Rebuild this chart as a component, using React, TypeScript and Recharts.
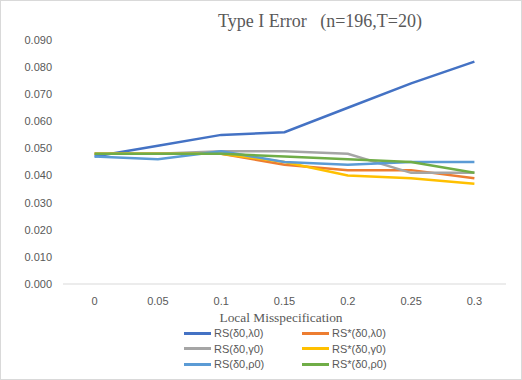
import { LineChart, Line, XAxis, YAxis } from "recharts";

const categories = ["0", "0.05", "0.1", "0.15", "0.2", "0.25", "0.3"];
const rsLambda = [0.047, 0.051, 0.055, 0.056, 0.065, 0.074, 0.082];
const rsStarLambda = [0.048, 0.048, 0.048, 0.044, 0.042, 0.042, 0.039];
const rsGamma = [0.048, 0.048, 0.049, 0.049, 0.048, 0.041, 0.041];
const rsStarGamma = [0.048, 0.048, 0.048, 0.045, 0.040, 0.039, 0.037];
const rsRho = [0.047, 0.046, 0.049, 0.045, 0.044, 0.045, 0.045];
const rsStarRho = [0.048, 0.048, 0.048, 0.047, 0.046, 0.045, 0.041];
const yTicks = [0, 0.01, 0.02, 0.03, 0.04, 0.05, 0.06, 0.07, 0.08, 0.09];

const series = [
  { key: "rsLambda", name: "RS(δ0,λ0)", color: "#4472C4", values: rsLambda },
  { key: "rsStarLambda", name: "RS*(δ0,λ0)", color: "#ED7D31", values: rsStarLambda },
  { key: "rsGamma", name: "RS(δ0,γ0)", color: "#A5A5A5", values: rsGamma },
  { key: "rsStarGamma", name: "RS*(δ0,γ0)", color: "#FFC000", values: rsStarGamma },
  { key: "rsRho", name: "RS(δ0,ρ0)", color: "#5B9BD5", values: rsRho },
  { key: "rsStarRho", name: "RS*(δ0,ρ0)", color: "#70AD47", values: rsStarRho },
];

const data = categories.map((c, i) => {
  const row: Record<string, string | number> = { x: c };
  series.forEach((s) => (row[s.key] = s.values[i]));
  return row;
});

const sans = "'Liberation Sans', Arial, sans-serif";
const serif = "'Liberation Serif', 'Times New Roman', serif";

// legend drawn beside the chart so it doesn't eat into the plot area
function LegendBox() {
  return (
    <div
      style={{
        position: "absolute",
        top: 325.5,
        left: 184,
        display: "grid",
        gridTemplateColumns: "118px 130px",
        fontFamily: sans,
        fontSize: 11,
        color: "#595959",
      }}
    >
      {series.map((s) => (
        <div key={s.key} style={{ display: "flex", alignItems: "center", height: 15.5 }}>
          <span style={{ display: "inline-block", width: 27, height: 3, background: s.color, marginRight: 3 }} />
          <span>{s.name}</span>
        </div>
      ))}
    </div>
  );
}

export default function App() {
  return (
    <div style={{ position: "fixed", top: 0, left: 0, width: 522, height: 380, background: "#fff" }}>
      <LineChart width={522} height={380} data={data} margin={{ top: 40, right: 16, bottom: 76, left: 0 }}>
        <text x={320} y={27} textAnchor="middle" fontFamily={serif} fontSize={18} fill="#595959" style={{ whiteSpace: "pre" }}>
          {"Type I Error   (n=196,T=20)"}
        </text>
        <text x={281} y={322} textAnchor="middle" fontFamily={serif} fontSize={13.4} fill="#595959">
          Local Misspecification
        </text>
        <XAxis
          dataKey="x"
          height={20}
          padding={{ left: 31.6, right: 31.6 }}
          axisLine={{ stroke: "#D9D9D9" }}
          tickLine={false}
          tickMargin={7}
          tick={{ fill: "#595959", fontSize: 11, fontFamily: sans }}
        />
        <YAxis
          width={63}
          domain={[0, 0.09]}
          ticks={yTicks}
          axisLine={false}
          tickLine={false}
          tickMargin={5}
          tickFormatter={(v: number) => v.toFixed(3)}
          tick={{ fill: "#595959", fontSize: 11, fontFamily: sans }}
        />
        {series.map((s) => (
          <Line
            key={s.key}
            dataKey={s.key}
            name={s.name}
            stroke={s.color}
            strokeWidth={2.5}
            dot={false}
            type="linear"
            isAnimationActive={false}
          />
        ))}
      </LineChart>
      <LegendBox />
      <div style={{ position: "absolute", inset: 0, border: "1px solid #D9D9D9", pointerEvents: "none" }} />
    </div>
  );
}
